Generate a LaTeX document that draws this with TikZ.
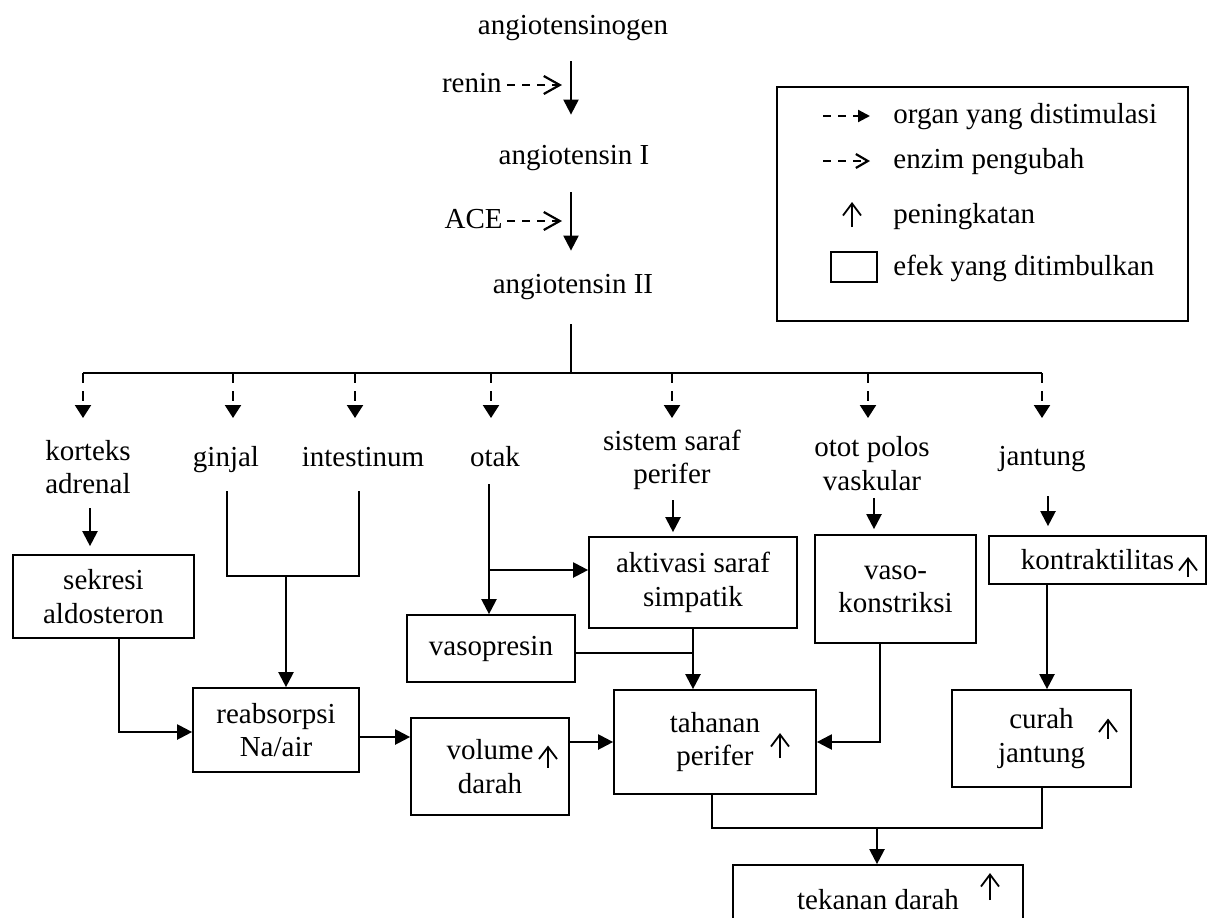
\documentclass[tikz,border=0pt]{standalone}
\usepackage{fontspec}
\setmainfont{Liberation Serif}
\usetikzlibrary{arrows.meta,calc}
\begin{document}
\begin{tikzpicture}[x=0.5pt,y=-0.5pt,
  every node/.style={font=\fontsize{14.5}{16.7}\selectfont, inner sep=0pt},
  lbl/.style={align=center},
  fix/.style={text height=10pt, text depth=3pt},
  box/.style={draw, line width=0.85pt, align=center},
  arr/.style={line width=1.1pt, -{Triangle[length=7.5pt,width=7.5pt]}},
  stim/.style={line width=1.1pt, dash pattern=on 5pt off 4pt, -{Triangle[length=6.5pt,width=8pt]}},
  stimleg/.style={line width=1.1pt, dash pattern=on 4pt off 3.5pt, -{Triangle[length=6pt,width=6pt]}},
  enz/.style={line width=1.1pt, dash pattern=on 4pt off 3.5pt, -{Straight Barb[length=8pt,width=9pt]}},
  enzleg/.style={line width=1.1pt, dash pattern=on 4pt off 3.5pt, -{Straight Barb[length=6pt,width=7pt]}},
  thinline/.style={line width=0.75pt},
  joinline/.style={line width=1.1pt},
  uparr/.style={line width=0.9pt, -{Straight Barb[length=6pt,width=9pt]}}
]
\useasboundingbox (0,0) rectangle (1211,917);

% ---- top cascade ----
\node[lbl,fix] (agen) at (573,27) {angiotensinogen};
\node[lbl,fix,anchor=east] (renin) at (502,85) {renin};
\node[lbl,fix] (ang1) at (574,157) {angiotensin I};
\node[lbl,fix,anchor=east] (ace) at (503,221) {ACE};
\node[lbl,fix] (ang2) at (573,286) {angiotensin II};

\coordinate (r1) at (562,85);
\coordinate (a1) at (562,221);
\draw[enz] ($(renin.east)+(5,0)$) -- (r1);
\draw[enz] ($(ace.east)+(4,0)$) -- (a1);
\draw[arr] ($(agen.south)+(-2,21)$) -- ($(ang1.north)+(-3,-29)$);
\draw[arr] ($(ang1.south)+(-3,22)$) -- ($(ang2.north)+(-2,-22)$);

% ---- organs ----
\node[lbl] (kort) at (88,467) {korteks\\adrenal};
\node[lbl,fix] (ginjal) at (226,459) {ginjal};
\node[lbl,fix] (intes) at (363,459) {intestinum};
\node[lbl,fix] (otak) at (495,459) {otak};
\node[lbl] (sist) at (672,460) {sistem saraf\\perifer};
\node[lbl] (otot) at (872,463.5) {otot polos\\vaskular};
\node[lbl,fix] (jant) at (1042,458) {jantung};

\coordinate (bus) at (571,373);
\coordinate (tipy) at (0,418);
\draw[thinline] ($(ang2.south)+(-2,25)$) -- (bus);
\draw[thinline] ($(kort |- bus)+(-5,0)$) -- (jant |- bus);
\foreach \n/\d in {kort/-5,ginjal/7,intes/-8,otak/-4,sist/0,otot/-4,jant/0}
  \draw[stim] ($(\n |- bus)+(\d,0)$) -- ($(\n |- tipy)+(\d,0)$);

% ---- effect boxes ----
\node[box, minimum width=90.5pt, minimum height=41.5pt] (sek) at (103.5,596.5) {sekresi\\aldosteron};
\node[box, minimum width=83pt, minimum height=42pt] (reab) at (276,730) {reabsorpsi\\Na/air};
\node[box, minimum width=84pt, minimum height=33.5pt] (vaso) at (491,648.5) {vasopresin};
\node[box, minimum width=79pt, minimum height=48.5pt] (vol) at (490,766.5) {volume\\darah};
\node[box, minimum width=104pt, minimum height=45.5pt] (akt) at (693,582.5) {aktivasi saraf\\simpatik};
\node[box, minimum width=80.5pt, minimum height=54pt] (vasok) at (895.5,589) {vaso-\\konstriksi};
\node[box, minimum width=108.5pt, minimum height=24pt] (kontr) at (1097.5,560) {kontraktilitas};
\node[box, minimum width=101pt, minimum height=52pt] (tah) at (715,742) {tahanan\\perifer};
\node[box, minimum width=89.5pt, minimum height=48.5pt] (curah) at (1041.5,738.5) {curah\\jantung};
\node[box, minimum width=145pt, minimum height=35pt] (tek) at (878,900) {tekanan darah};

% ---- connectors ----
\draw[arr] ($(kort.south)+(2,14)$) -- ($(kort.south |- sek.north)+(2,-8)$);

\coordinate (merge) at (286,576);
\draw[thinline] ($(ginjal.south)+(1,19)$) |- (merge) -| ($(intes.south)+(-4,19)$);
\draw[arr] (merge) -- (merge |- reab.north);

\draw[arr] ($(sek.south)+(15.5,0)$) |- ($(reab.west)+(0,2)$);
\draw[arr] ($(reab.east)+(0,7)$) -- ($(reab.east -| vol.west)+(0,7)$);

\coordinate (ot) at ($(otak.south)+(-6,12)$);
\draw[arr] (ot) -- (ot |- vaso.north);
\draw[arr] ($(ot |- akt.west)+(0,-12.5)$) -- ($(akt.west)+(0,-12.5)$);

\draw[arr] ($(sist.south)+(1,10)$) -- ($(sist.south |- akt.north)+(1,-4)$);
\draw[arr] ($(otot.south)+(2,7)$) -- ($(otot.south |- vasok.north)+(2,-5)$);
\draw[arr] ($(jant.south)+(6,25)$) -- ($(jant.south |- kontr.north)+(6,-9)$);

\draw[arr] (akt.south) -- (akt.south |- tah.north);
\draw[thinline] ($(vaso.east)+(0,4.5)$) -- ($(vaso.east -| akt.south)+(0,4.5)$);
\draw[arr] (vol.east |- tah.west) -- (tah.west);
\draw[arr] ($(vasok.south)+(-15.5,0)$) |- (tah.east);
\draw[arr] ($(curah.north |- kontr.south)+(5.5,0)$) -- ($(curah.north)+(5.5,0)$);

\coordinate (jn) at ($(tek.north)+(-1,-36)$);
\draw[joinline] ($(tah.south)+(-3,0)$) |- (jn) -| ($(curah.south)+(0.5,0)$);
\draw[arr] (jn) -- (jn |- tek.north);

% ---- increase arrows ----
\draw[uparr] ($(vol.center)+(58,1)$) -- ++(0,-22);
\draw[uparr] ($(tah.center)+(65,16)$) -- ++(0,-25);
\draw[uparr] ($(curah.center)+(66.5,0)$) -- ++(0,-20);
\draw[uparr] ($(kontr.center)+(90.5,17)$) -- ++(0,-20);
\draw[uparr] ($(tek.center)+(112,0)$) -- ++(0,-27);

% ---- legend ----
\node[draw, line width=1pt, minimum width=205.5pt, minimum height=117pt] (leg) at (982.5,204) {};
\node[lbl,fix,anchor=west] (leg1) at (893,116) {organ yang distimulasi};
\node[lbl,fix,anchor=west] (leg2) at (893,161) {enzim pengubah};
\node[lbl,fix,anchor=west] (leg3) at (893,216) {peningkatan};
\node[lbl,fix,anchor=west] (leg4) at (893,268) {efek yang ditimbulkan};
\draw[stimleg] ($(leg1.west)+(-70,0)$) -- ($(leg1.west)+(-23,0)$);
\draw[enzleg] ($(leg2.west)+(-70,0)$) -- ($(leg2.west)+(-23,0)$);
\draw[uparr] ($(leg3.west)+(-41,11)$) -- ++(0,-25);
\node[draw, line width=0.8pt, minimum width=23pt, minimum height=15pt] (legbox) at ($(leg4.west)+(-39,-1)$) {};
\end{tikzpicture}
\end{document}
